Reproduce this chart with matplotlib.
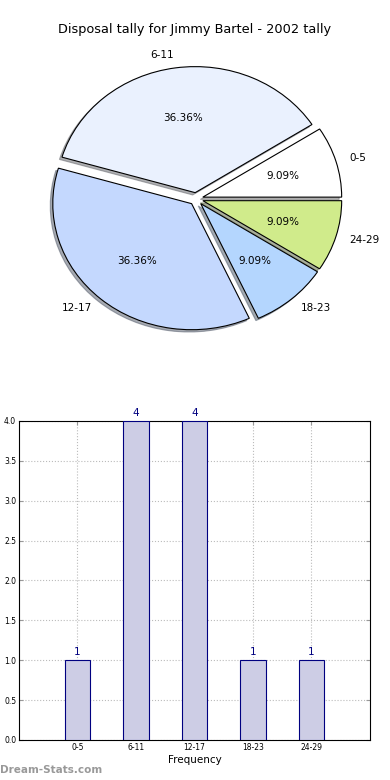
import matplotlib
matplotlib.use("Agg")
import matplotlib.pyplot as plt

# Data
ranges = ["0-5", "6-11", "12-17", "18-23", "24-29"]
counts = [1, 4, 4, 1, 1]
pie_colors = ["#ffffff", "#eaf1fe", "#c4d8fe", "#b4d6fe", "#d0eb8b"]
explode = [0.05] * len(counts)

fig = plt.figure(figsize=(3.9, 7.8), dpi=100)

# Pie chart (stretched, not equal aspect, like the old plot)
ax1 = fig.add_axes([0.058, 0.543, 0.89, 0.404])
wedges, texts, autotexts = ax1.pie(
    counts, labels=ranges, colors=pie_colors, explode=explode,
    autopct="%.2f%%", shadow=dict(ox=-0.013, oy=-0.013, shade=0.6),
    startangle=0,
    wedgeprops=dict(edgecolor="black", linewidth=0.8),
    textprops=dict(fontsize=7.5),
)
ax1.set_aspect("auto")
ax1.set_xlim(-1.25, 1.25)
ax1.set_ylim(-1.25, 1.25)
fig.text(0.5, 1 - 30 / 780, "Disposal tally for Jimmy Bartel - 2002 tally",
         ha="center", va="center", fontsize=9.3)

# Bar chart
ax2 = fig.add_axes([0.0487, 0.0513, 0.9, 0.409])
x = range(len(counts))
ax2.bar(x, counts, width=0.44, color="#cdcde5", edgecolor="navy", linewidth=0.8, zorder=3)
for xi, c in zip(x, counts):
    ax2.text(xi, c + 0.04, str(c), ha="center", va="bottom", color="navy", fontsize=7.5)
ax2.set_xlim(-1, 5)
ax2.set_ylim(0, 4)
ax2.set_xticks(list(x))
ax2.set_xticklabels(ranges, fontsize=5.5)
ax2.set_yticks([0, 0.5, 1, 1.5, 2, 2.5, 3, 3.5, 4])
ax2.set_yticklabels(["0.0", "0.5", "1.0", "1.5", "2.0", "2.5", "3.0", "3.5", "4.0"], fontsize=5.5)
ax2.tick_params(direction="in", length=3, color="#999999", top=True, right=True, pad=2)
ax2.grid(True, linestyle=":", color="#bbbbbb", linewidth=0.8, zorder=0)
ax2.set_axisbelow(True)
ax2.set_xlabel("Frequency", fontsize=7.5, labelpad=2)
for s in ax2.spines.values():
    s.set_linewidth(0.8)

fig.text(0.0, 1 - 770 / 780, "Dream-Stats.com", ha="left", va="center",
         fontsize=7.5, color="#999999", fontweight="bold")

fig.savefig("out.png", dpi=100)
